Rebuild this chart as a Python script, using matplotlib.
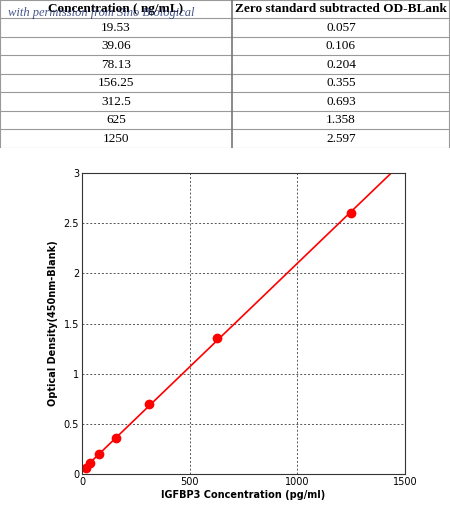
import numpy as np
import matplotlib
matplotlib.use("Agg")
import matplotlib.pyplot as plt

conc = [19.53, 39.06, 78.13, 156.25, 312.5, 625, 1250]
conc_labels = ["19.53", "39.06", "78.13", "156.25", "312.5", "625", "1250"]
od = [0.057, 0.106, 0.204, 0.355, 0.693, 1.358, 2.597]
od_labels = ["0.057", "0.106", "0.204", "0.355", "0.693", "1.358", "2.597"]
headers = ["Concentration ( ng/mL)", "Zero standard subtracted OD-BLank"]

fig = plt.figure(figsize=(4.5, 5.08), dpi=100)

# table at top
tax = fig.add_axes([0, 1 - 148 / 508, 1, 148 / 508])
tax.set_xlim(0, 450)
tax.set_ylim(148, 0)
tax.axis("off")
row_h = 148 / 8
split = 232
for i in range(9):
    tax.plot([0, 450], [i * row_h, i * row_h], color="#999999", lw=0.8)
tax.plot([0, 0], [0, 148], color="#999999", lw=0.8)
tax.plot([449, 449], [0, 148], color="#999999", lw=0.8)
tax.plot([split, split], [0, 148], color="#777777", lw=1.2)
tax.text(split / 2, row_h / 2, headers[0], ha="center", va="center",
         family="Liberation Serif", fontweight="bold", fontsize=9.5)
tax.text((split + 450) / 2, row_h / 2, headers[1], ha="center", va="center",
         family="Liberation Serif", fontweight="bold", fontsize=9.5)
# watermark deliberately overlaps the header, as in the source
tax.text(8, row_h / 2 + 4, "with permission from Sino Biological", ha="left",
         va="center", family="Liberation Serif", style="italic",
         fontsize=9, color="#1a2a6c", alpha=0.8)
for i, (c, o) in enumerate(zip(conc_labels, od_labels)):
    y = (i + 1.5) * row_h
    tax.text(split / 2, y, c, ha="center", va="center",
             family="Liberation Serif", fontsize=9.5)
    tax.text((split + 450) / 2, y, o, ha="center", va="center",
             family="Liberation Serif", fontsize=9.5)

# standard curve
ax = fig.add_axes([82 / 450, 34 / 508, 323 / 450, 301 / 508])
slope, icpt = np.polyfit(conc, od, 1)
xs = np.array([0, 1500])
ax.plot(xs, slope * xs + icpt, color="red", lw=1.2)
ax.plot(conc, od, "o", color="red", ms=6)
ax.set_xlim(0, 1500)
ax.set_ylim(0, 3)
ax.set_xticks([0, 500, 1000, 1500])
ax.set_yticks([0, 0.5, 1, 1.5, 2, 2.5, 3])
ax.set_yticklabels(["0", "0.5", "1", "1.5", "2", "2.5", "3"])
ax.grid(True, color="#555555", linestyle=(0, (2, 2)), lw=0.7)
ax.tick_params(labelsize=7, length=0, pad=2)
ax.set_xlabel("IGFBP3 Concentration (pg/ml)", fontsize=7, fontweight="bold", labelpad=2)
ax.set_ylabel("Optical Density(450nm-Blank)", fontsize=7, fontweight="bold", labelpad=4)
for s in ax.spines.values():
    s.set_color("#333333")

fig.savefig("out.png", dpi=100)
